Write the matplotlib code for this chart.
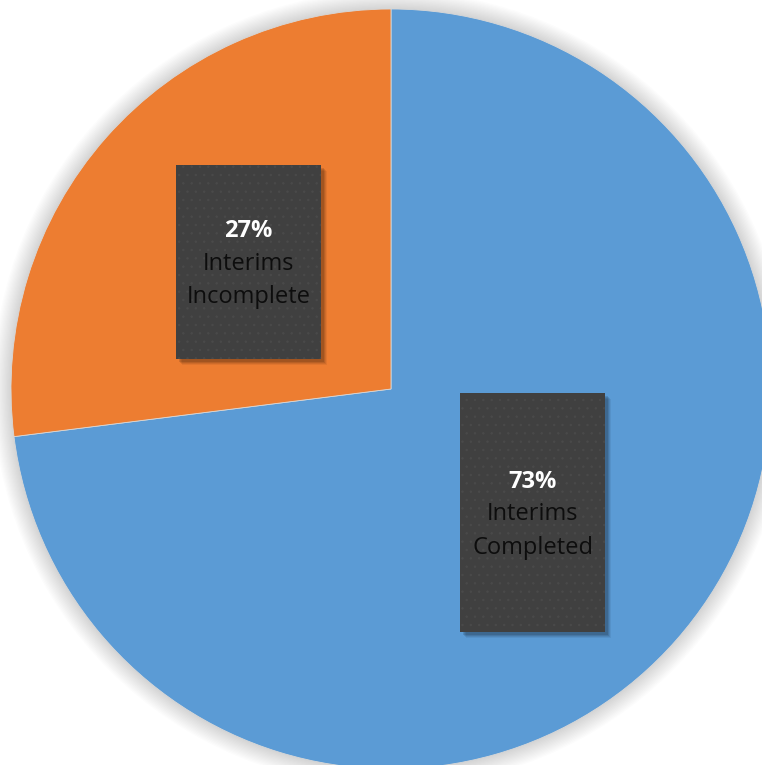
import matplotlib.pyplot as plt
from matplotlib.patches import Rectangle, Circle

labels = ["Interims\nCompleted", "Interims\nIncomplete"]
values = [73, 27]
colors = ["#5b9bd5", "#ed7d31"]

W, H = 762, 765
plt.rcParams["hatch.linewidth"] = 0.5
fig = plt.figure(figsize=(W / 100, H / 100), dpi=100)
ax = fig.add_axes([0, 0, 1, 1])

cx, cy, r = 391, H - 389, 380

# soft glow behind the pie
for i in range(14, 0, -1):
    ax.add_patch(Circle((cx, cy), r + i * 1.3, color="#000000", alpha=0.010, lw=0, zorder=0))

ax.pie(values, colors=colors, startangle=90, counterclock=False,
       center=(cx, cy), radius=r, frame=True,
       wedgeprops=dict(linewidth=0.6, edgecolor="#d8d8d8"))
ax.set_xlim(0, W)
ax.set_ylim(0, H)
ax.set_aspect("equal")
ax.axis("off")

# label boxes: (left, top, right, bottom) in pixels
boxes = [(460, 393, 605, 632), (176, 165, 321, 359)]

for (x0, y0, x1, y1), lab, val in zip(boxes, labels, values):
    w, h = x1 - x0, y1 - y0
    # drop shadow
    for k, a in [(6, 0.06), (5, 0.08), (4, 0.1), (3, 0.12)]:
        ax.add_patch(Rectangle((x0 + k, H - y1 - k), w, h, color="black",
                               alpha=a, lw=0, zorder=3))
    ax.add_patch(Rectangle((x0, H - y1), w, h, facecolor="#404040",
                           edgecolor="#4a4a4a", hatch="..", lw=0, zorder=4))
    mx = (x0 + x1) / 2
    my = H - (y0 + y1) / 2
    ax.text(mx, my + 31, f"{val}%", ha="center", va="center", color="white",
            fontsize=17, fontweight="bold", family="Open Sans", zorder=5)
    for j, line in enumerate(lab.split("\n")):
        ax.text(mx, my - 2 - 33 * j, line, ha="center", va="center",
                color="#0d0d0d", fontsize=17, family="Open Sans", zorder=5)

fig.savefig("out.png", dpi=100)
